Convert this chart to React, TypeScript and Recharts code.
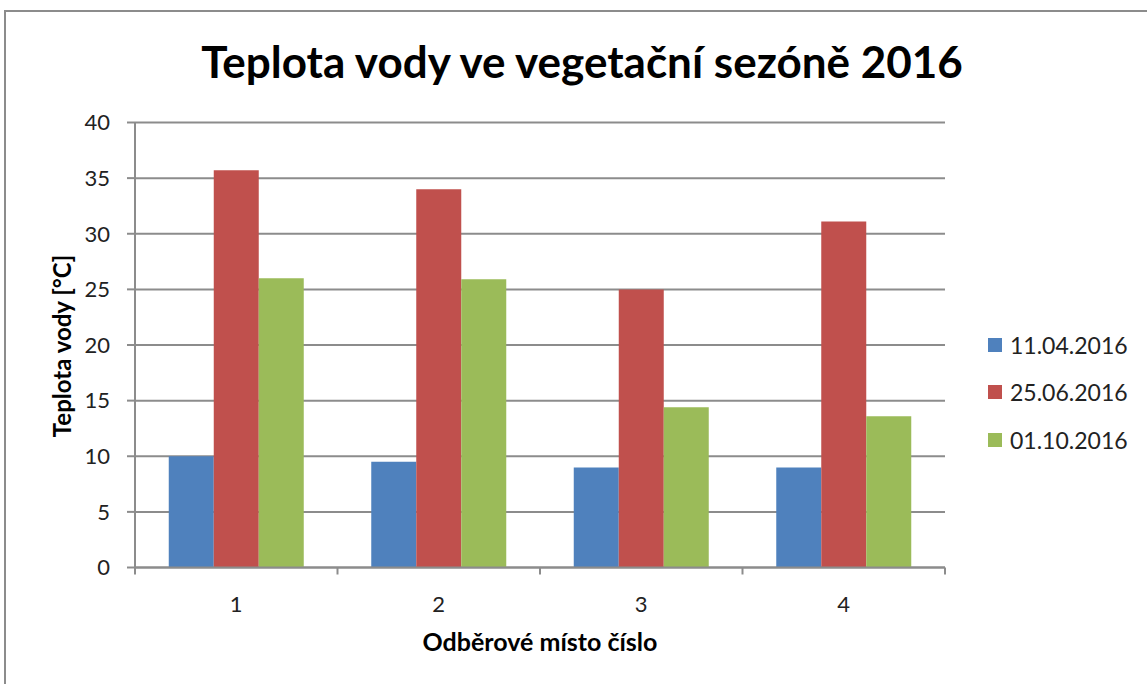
import { BarChart, Bar, XAxis, YAxis, CartesianGrid, Legend } from "recharts"

const places = ["1", "2", "3", "4"]
const april = [10, 9.5, 9, 9]
const june = [35.7, 34, 25, 31.1]
const october = [26, 25.9, 14.4, 13.6]
const seriesNames = ["11.04.2016", "25.06.2016", "01.10.2016"]
const seriesColors = ["#4F81BD", "#C0504D", "#9BBB59"]
const yTicks = [0, 5, 10, 15, 20, 25, 30, 35, 40]

const data = places.map((p, i) => ({
  place: p,
  a: april[i],
  b: june[i],
  c: october[i],
}))

const font = "Lato, 'Noto Sans', sans-serif"
const grey = "#8c8c8c"
const xTickSize = 7
const xTickMargin = 22

// Excel puts the x tick marks between the categories, so draw them at the
// band edges (payload.offset is half the band width from the scale)
function PlaceTick({ x, y, payload, index, visibleTicksCount }: any) {
  const half = payload?.offset ?? 0
  const axisY = y - xTickSize - xTickMargin
  const last = index === visibleTicksCount - 1
  return (
    <g>
      <line x1={x - half} x2={x - half} y1={axisY} y2={axisY + xTickSize} stroke={grey} strokeWidth={2} />
      {last && (
        <line x1={x + half} x2={x + half} y1={axisY} y2={axisY + xTickSize} stroke={grey} strokeWidth={2} />
      )}
      <text x={x} y={y} dy="0.71em" textAnchor="middle" fill="#222" fontSize={22} fontFamily={font}>
        {payload.value}
      </text>
    </g>
  )
}

// keep the legend in series order, not sorted
function LegendBox() {
  return (
    <div style={{ fontFamily: font }}>
      {seriesNames.map((name, i) => (
        <div
          key={name}
          style={{ display: "flex", alignItems: "center", height: 47.5 }}
        >
          <span
            style={{
              width: 14,
              height: 14,
              background: seriesColors[i],
              display: "inline-block",
              marginRight: 8,
            }}
          />
          <span style={{ fontSize: 23, color: "#222" }}>{name}</span>
        </div>
      ))}
    </div>
  )
}

export default function App() {
  return (
    <div
      style={{
        position: "absolute",
        left: 0,
        top: 0,
        width: 1147,
        height: 684,
        overflow: "hidden",
        background: "#fff",
        fontFamily: font,
      }}
    >
      <div
        style={{
          position: "absolute",
          left: 4,
          top: 10,
          width: 1200,
          height: 700,
          borderTop: `2px solid ${grey}`,
          borderLeft: `2px solid ${grey}`,
        }}
      />
      <div
        style={{
          position: "absolute",
          left: 0,
          width: 1164,
          top: 39,
          textAlign: "center",
          fontSize: 44,
          fontWeight: 700,
          lineHeight: 1,
          color: "#000",
        }}
      >
        Teplota vody ve vegetační sezóně 2016
      </div>
      <div
        style={{
          position: "absolute",
          left: 62,
          top: 346,
          transform: "translate(-50%, -50%) rotate(-90deg)",
          whiteSpace: "nowrap",
          fontSize: 24,
          fontWeight: 700,
          lineHeight: 1,
          color: "#000",
        }}
      >
        Teplota vody [°C]
      </div>
      <div
        style={{
          position: "absolute",
          left: 0,
          width: 1080,
          top: 629,
          textAlign: "center",
          fontSize: 25,
          fontWeight: 700,
          lineHeight: 1,
          color: "#000",
        }}
      >
        Odběrové místo číslo
      </div>
      <div style={{ position: "absolute", left: 0, top: 0 }}>
        <BarChart
          width={1147}
          height={684}
          data={data}
          margin={{ top: 122.5, right: 202, left: 0, bottom: 115.5 }}
          barCategoryGap="16.67%"
          barGap={0}
        >
          <CartesianGrid
            vertical={false}
            stroke={grey}
            strokeWidth={2}
          />
          <XAxis
            dataKey="place"
            height={1}
            axisLine={{ stroke: grey, strokeWidth: 2 }}
            tickLine={false}
            tickSize={xTickSize}
            tickMargin={xTickMargin}
            tick={<PlaceTick />}
          />
          <YAxis
            domain={[0, 40]}
            ticks={yTicks}
            width={135}
            tickSize={8}
            tickMargin={17}
            axisLine={{ stroke: grey, strokeWidth: 2 }}
            tickLine={{ stroke: grey, strokeWidth: 2 }}
            tick={{ fill: "#222", fontSize: 22, fontFamily: font }}
          />
          <Legend
            layout="vertical"
            align="center"
            verticalAlign="middle"
            content={<LegendBox />}
            wrapperStyle={{ left: 988, top: 321, width: 160 }}
          />
          <Bar dataKey="a" name={seriesNames[0]} fill={seriesColors[0]} isAnimationActive={false} />
          <Bar dataKey="b" name={seriesNames[1]} fill={seriesColors[1]} isAnimationActive={false} />
          <Bar dataKey="c" name={seriesNames[2]} fill={seriesColors[2]} isAnimationActive={false} />
        </BarChart>
      </div>
    </div>
  )
}
